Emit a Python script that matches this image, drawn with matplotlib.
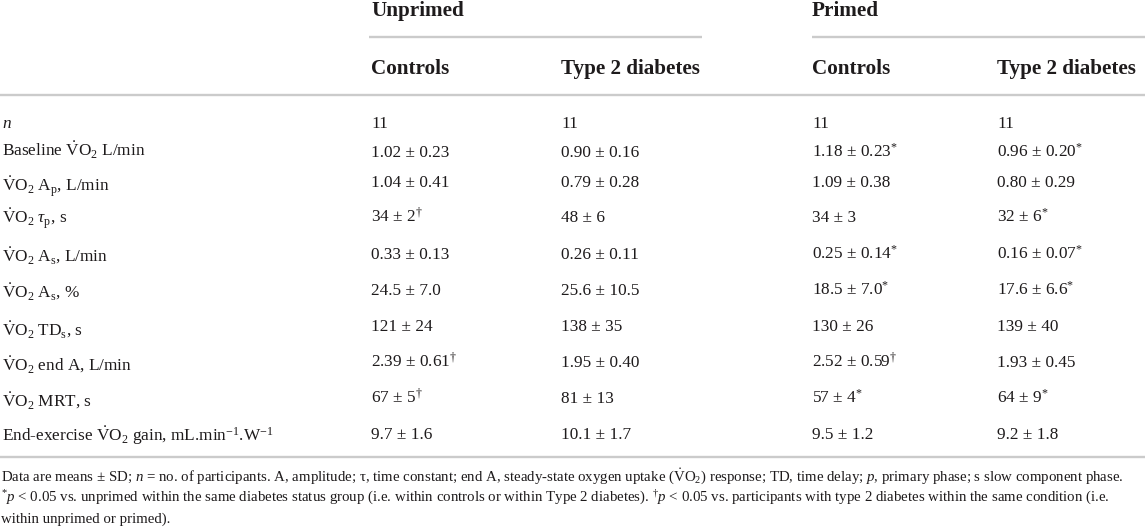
import matplotlib
matplotlib.use("Agg")
import matplotlib.pyplot as plt

plt.rcParams['font.family'] = ['Liberation Serif', 'DejaVu Serif']
plt.rcParams['mathtext.fontset'] = 'custom'
plt.rcParams['mathtext.rm'] = 'Liberation Serif'
plt.rcParams['mathtext.it'] = 'Liberation Serif:italic'
plt.rcParams['mathtext.bf'] = 'Liberation Serif:bold'

VO2 = r'$\dot{\mathrm{V}}\mathrm{O}_2$'

# ---- data ----
conditions = ['Unprimed', 'Primed']
groups = ['Controls', 'Type 2 diabetes']
row_labels = [
    r'$n$',
    'Baseline ' + VO2 + ' L/min',
    VO2 + r' A$_\mathrm{p}$, L/min',
    VO2 + r' $\tau_\mathrm{p}$, s',
    VO2 + r' A$_\mathrm{s}$, L/min',
    VO2 + r' A$_\mathrm{s}$, %',
    VO2 + r' TD$_\mathrm{s}$, s',
    VO2 + ' end A, L/min',
    VO2 + ' MRT, s',
    'End-exercise ' + VO2 + r' gain, mL.min$^{-1}$.W$^{-1}$',
]
unprimed_controls_mean = ['11', '1.02', '1.04', '34', '0.33', '24.5', '121', '2.39', '67', '9.7']
unprimed_controls_sd = ['', '0.23', '0.41', '2', '0.13', '7.0', '24', '0.61', '5', '1.6']
unprimed_controls_mark = ['', '', '', '†', '', '', '', '†', '†', '']
unprimed_t2d_mean = ['11', '0.90', '0.79', '48', '0.26', '25.6', '138', '1.95', '81', '10.1']
unprimed_t2d_sd = ['', '0.16', '0.28', '6', '0.11', '10.5', '35', '0.40', '13', '1.7']
unprimed_t2d_mark = ['', '', '', '', '', '', '', '', '', '']
primed_controls_mean = ['11', '1.18', '1.09', '34', '0.25', '18.5', '130', '2.52', '57', '9.5']
primed_controls_sd = ['', '0.23', '0.38', '3', '0.14', '7.0', '26', '0.59', '4', '1.2']
primed_controls_mark = ['', '*', '', '', '*', '*', '', '†', '*', '']
primed_t2d_mean = ['11', '0.96', '0.80', '32', '0.16', '17.6', '139', '1.93', '64', '9.2']
primed_t2d_sd = ['', '0.20', '0.29', '6', '0.07', '6.6', '40', '0.45', '9', '1.8']
primed_t2d_mark = ['', '*', '', '*', '*', '*', '', '', '*', '']

footnotes = [
    r'Data are means ± SD; $n$ = no. of participants. A, amplitude; τ, time constant; end A, steady-state oxygen uptake ('
    + VO2 + r') response; TD, time delay; $p$, primary phase; s slow component phase.',
    r'$^{*}p$ < 0.05 vs. unprimed within the same diabetes status group (i.e. within controls or within Type 2 diabetes). '
    r'$^{\dagger}p$ < 0.05 vs. participants with type 2 diabetes within the same condition (i.e.',
    'within unprimed or primed).',
]

# ---- layout ----
W, H = 1145, 528
fig = plt.figure(figsize=(W / 100, H / 100), dpi=100)
ax = fig.add_axes([0, 0, 1, 1])
ax.set_xlim(0, W)
ax.set_ylim(H, 0)
ax.axis('off')

txt = '#1e1b1c'
line_c = '#cbcbcb'
body_fs = 12.4
head_fs = 15.2
foot_fs = 10.7

col_x = [371, 561, 812, 997]
cond_x = [371, 812]
cond_line = [(369, 702), (812, 1145)]
row_base = [128, 157, 187, 222, 259, 295, 331, 367, 403, 439]
label_dy = [0, 0, 5, 2, 3, 3, 5, 4, 4, 2]

for cx, c in zip(cond_x, conditions):
    ax.text(cx, 16, c, fontsize=head_fs, fontweight='bold', color=txt, va='baseline', ha='left')
for (x0, x1) in cond_line:
    ax.plot([x0, x1], [37, 37], color=line_c, lw=1.7, solid_capstyle='butt')
for i, cx in enumerate(col_x):
    ax.text(cx, 74, groups[i % 2], fontsize=head_fs, fontweight='bold', color=txt, va='baseline', ha='left')
ax.plot([0, W], [94.5, 94.5], color=line_c, lw=1.7, solid_capstyle='butt')
ax.plot([0, W], [457, 457], color=line_c, lw=1.7, solid_capstyle='butt')

def cell(mean, sd, mark):
    s = mean if sd == '' else f'{mean} ± {sd}'
    if mark == '*':
        s += r'$^{*}$'
    elif mark == '†':
        s += r'$^{\dagger}$'
    return s

columns = [
    (unprimed_controls_mean, unprimed_controls_sd, unprimed_controls_mark),
    (unprimed_t2d_mean, unprimed_t2d_sd, unprimed_t2d_mark),
    (primed_controls_mean, primed_controls_sd, primed_controls_mark),
    (primed_t2d_mean, primed_t2d_sd, primed_t2d_mark),
]

for r, lab in enumerate(row_labels):
    ax.text(2, row_base[r] + label_dy[r], lab, fontsize=body_fs, color=txt, va='baseline', ha='left')
    for cx, (m, s, k) in zip(col_x, columns):
        ax.text(cx, row_base[r], cell(m[r], s[r], k[r]), fontsize=body_fs, color=txt, va='baseline', ha='left')

for i, f in enumerate(footnotes):
    ax.text(1, 481 + 21 * i, f, fontsize=foot_fs, color=txt, va='baseline', ha='left')

fig.savefig('out.png', dpi=100, facecolor='white')
